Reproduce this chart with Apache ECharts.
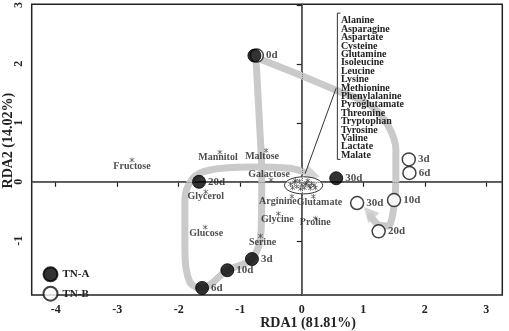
<!DOCTYPE html>
<html>
<head>
<meta charset="utf-8">
<script src="https://cdn.jsdelivr.net/npm/echarts@6/dist/echarts.min.js"></script>
<style>
html,body{margin:0;padding:0;background:#fff;}
#chart{width:509px;height:331px;}
</style>
</head>
<body>
<div id="chart"></div>
<script>
// sampling days
var days = ['0d', '3d', '6d', '10d', '20d', '30d'];
// RDA scores of the samples [RDA1, RDA2]
var tnA = [[-0.77, 2.14], [-0.81, -1.31], [-1.62, -1.80], [-1.21, -1.50], [-1.67, 0.00], [0.56, 0.06]];
var tnB = [[-0.73, 2.14], [1.74, 0.38], [1.75, 0.15], [1.50, -0.31], [1.25, -0.84], [0.90, -0.36]];
// metabolites drawn alone
var metNames = ['Fructose', 'Mannitol', 'Maltose', 'Galactose', 'Glycerol', 'Glucose', 'Serine', 'Arginine', 'Glutamate', 'Glycine', 'Proline'];
var metScores = [[-2.76, 0.37], [-1.33, 0.50], [-0.58, 0.53], [-0.50, 0.03], [-1.56, -0.17], [-1.57, -0.77], [-0.67, -0.92], [-0.16, -0.25], [0.19, -0.25], [-0.38, -0.54], [0.22, -0.62]];
// metabolites packed in the ellipse
var clusterNames = ['Alanine', 'Asparagine', 'Aspartate', 'Cysteine', 'Glutamine', 'Isoleucine', 'Leucine', 'Lysine', 'Methionine', 'Phenylalanine', 'Pyroglutamate', 'Threonine', 'Tryptophan', 'Tyrosine', 'Valine', 'Lactate', 'Malate'];
var clusterScores = [[-0.18, -0.04], [-0.12, -0.01], [-0.08, -0.08], [-0.04, 0.01], [0.00, -0.05], [0.04, -0.10], [0.08, -0.02], [0.12, -0.07], [0.16, -0.03], [0.20, -0.06], [-0.15, -0.10], [0.10, 0.02], [-0.02, -0.12], [0.06, -0.04], [0.14, -0.11], [-0.10, 0.02], [0.22, -0.10]];
// axis ticks
var xTicks = [-4, -3, -2, -1, 0, 1, 2, 3];
var yTicks = [-1, 0, 1, 2, 3];

// ---- layout only (guides, label nudges) ----
var pathA = [[-0.74, 2.00], [-0.69, 1.05], [-0.65, 0.11], [-0.66, -0.82], [-0.81, -1.31], [-1.21, -1.50], [-1.62, -1.80], [-1.82, -1.70], [-1.90, -1.16], [-1.90, -0.31], [-1.77, 0.06], [-1.49, 0.20], [-0.84, 0.25], [-0.19, 0.23], [0.02, 0.17]];
var pathB = [[-0.65, 2.07], [-0.03, 1.81], [0.54, 1.56], [1.11, 1.30], [1.40, 0.96], [1.53, 0.54], [1.53, 0.03], [1.49, -0.48], [1.40, -0.75], [1.27, -0.74], [1.12, -0.58]];
var arrows = [[0.18, 0.12, -108], [1.09, -0.52, 42]];
var metOffset = [[0, 6], [-2, 5], [-4, 6], [-2, -6], [0, 5], [1, 6], [2, 6], [-14, 5], [6, 5.5], [-1, 6], [0, 4.5]];
var ellipse = [0.03, -0.06, 0.31, 0.145];
var bracket = [[0.63, 2.86], [0.579, 2.86], [0.579, 0.38], [0.63, 0.38]];
var connector = [[0.055, 0.14], [0.558, 1.585]];

var FONT = '"Liberation Serif", "Times New Roman", serif';
var STAR = 'path://M4.4,0h1.2v10h-1.2z M0.2,2.1L0.8,1.1L9.8,7.9L9.2,8.9Z M0.2,7.9L9.2,1.1L9.8,2.1L0.8,8.9Z';
var GRAY = '#cacaca';

var chart = echarts.init(document.getElementById('chart'));

function pointData(arr, hideFirst) {
	var out = [];
	for (var i = 0; i < arr.length; i++) {
		var item = {name: days[i], value: arr[i]};
		if (hideFirst && i == 0) item.label = {show: false};
		out.push(item);
	}
	return out;
}
var metData = [];
for (var i = 0; i < metNames.length; i++) {
	metData.push({name: metNames[i], value: metScores[i], label: {offset: metOffset[i]}});
}

var option = {
	animation: false,
	backgroundColor: '#fff',
	grid: {left: 31.7, right: 6.7, top: 4.3, bottom: 36, show: true, borderColor: '#222', borderWidth: 1.5, containLabel: false, outerBoundsMode: 'none'},
	legend: {
		data: ['TN-A', 'TN-B'], orient: 'vertical', left: 37.5, top: 261.3,
		itemWidth: 14, itemHeight: 14, itemGap: 3.4, icon: 'circle',
		textStyle: {fontFamily: FONT, fontWeight: 'bold', fontSize: 11, color: '#222'}
	},
	xAxis: {
		type: 'value', min: -4.39, max: 3.26,
		name: 'RDA1 (81.81%)', nameLocation: 'middle', nameGap: 21, nameMoveOverlap: false,
		nameTextStyle: {fontFamily: FONT, fontWeight: 'bold', fontSize: 14, color: '#222', padding: [0, 0, 0, 82]},
		axisLine: {show: true, lineStyle: {color: '#222', width: 1.5}},
		axisTick: {show: true, inside: false, length: 5, customValues: xTicks, lineStyle: {color: '#222', width: 1.2}},
		axisLabel: {customValues: xTicks, margin: 9, fontFamily: FONT, fontWeight: 'bold', fontSize: 12, color: '#222'},
		splitLine: {show: false}
	},
	yAxis: {
		type: 'value', min: -1.92, max: 3.01,
		name: 'RDA2 (14.02%)', nameLocation: 'middle', nameGap: 16, nameMoveOverlap: false,
		nameTextStyle: {fontFamily: FONT, fontWeight: 'bold', fontSize: 14, color: '#222', padding: [0, 0, 0, 18]},
		axisLine: {show: true, lineStyle: {color: '#222', width: 1.5}},
		axisTick: {show: true, inside: false, length: 5, customValues: yTicks, lineStyle: {color: '#222', width: 1.2}},
		axisLabel: {customValues: yTicks, rotate: 90, margin: 7, fontFamily: FONT, fontWeight: 'bold', fontSize: 12, color: '#222'},
		splitLine: {show: false}
	},
	series: [
		{
			name: 'pathA', type: 'line', data: pathA, smooth: 0.35, symbol: 'none', z: 1,
			lineStyle: {color: GRAY, width: 7, cap: 'round'},
			markLine: {
				silent: true, symbol: 'none', label: {show: false},
				lineStyle: {color: '#777', type: 'dotted', width: 1},
				data: [{xAxis: 0}, {yAxis: 0}]
			}
		},
		{
			name: 'pathB', type: 'line', data: pathB, smooth: 0.35, symbol: 'none', z: 1,
			lineStyle: {color: GRAY, width: 7, cap: 'round'}
		},
		{
			name: 'arrows', type: 'scatter', symbol: 'triangle', symbolSize: [15, 15], z: 1,
			itemStyle: {color: GRAY},
			symbolRotate: function (v) { return v[2]; },
			data: arrows
		},
		{
			name: 'ellipse', type: 'custom', z: 3,
			renderItem: function (params, api) {
				var c = api.coord([api.value(0), api.value(1)]);
				var s = api.size([api.value(2), api.value(3)]);
				return {type: 'ellipse', shape: {cx: c[0], cy: c[1], rx: s[0], ry: s[1]}, style: {fill: 'rgba(255,255,255,0.85)', stroke: '#333', lineWidth: 1}};
			},
			data: [ellipse]
		},
		{
			name: 'cluster', type: 'scatter', symbol: STAR, symbolSize: 5, z: 4,
			itemStyle: {color: '#222'},
			data: clusterScores
		},
		{
			name: 'bracket', type: 'line', data: bracket, symbol: 'none', z: 3,
			lineStyle: {color: '#333', width: 1}
		},
		{
			name: 'connector', type: 'line', data: connector, symbol: 'none', z: 3,
			lineStyle: {color: '#333', width: 1}
		},
		{
			name: 'aminoList', type: 'custom', z: 4,
			renderItem: function (params, api) {
				var c = api.coord([api.value(0), api.value(1)]);
				return {
					type: 'text', x: c[0], y: c[1],
					style: {text: clusterNames.join('\n'), font: 'bold 10px ' + FONT, lineHeight: 8.4, fill: '#222', align: 'left', verticalAlign: 'top'}
				};
			},
			data: [[0.636, 2.80]]
		},
		{
			name: 'metabolites', type: 'scatter', symbol: STAR, symbolSize: 5, z: 4,
			itemStyle: {color: '#222'},
			label: {show: true, position: 'inside', formatter: '{b}', fontFamily: FONT, fontWeight: 'bold', fontSize: 10, color: '#222'},
			data: metData
		},
		{
			name: 'TN-B', type: 'scatter', symbol: 'circle', symbolSize: 13, z: 5,
			itemStyle: {color: '#fff', borderColor: '#111', borderWidth: 1.5},
			label: {show: true, position: 'right', distance: 2, formatter: '{b}', fontFamily: FONT, fontWeight: 'bold', fontSize: 11, color: '#222'},
			data: pointData(tnB, false)
		},
		{
			name: 'TN-A', type: 'scatter', symbol: 'circle', symbolSize: 13, z: 6,
			itemStyle: {color: '#000', borderColor: '#000', borderWidth: 1},
			label: {show: true, position: 'right', distance: 2, formatter: '{b}', fontFamily: FONT, fontWeight: 'bold', fontSize: 11, color: '#222'},
			data: pointData(tnA, true)
		}
	]
};
chart.setOption(option);
</script>
</body>
</html>
